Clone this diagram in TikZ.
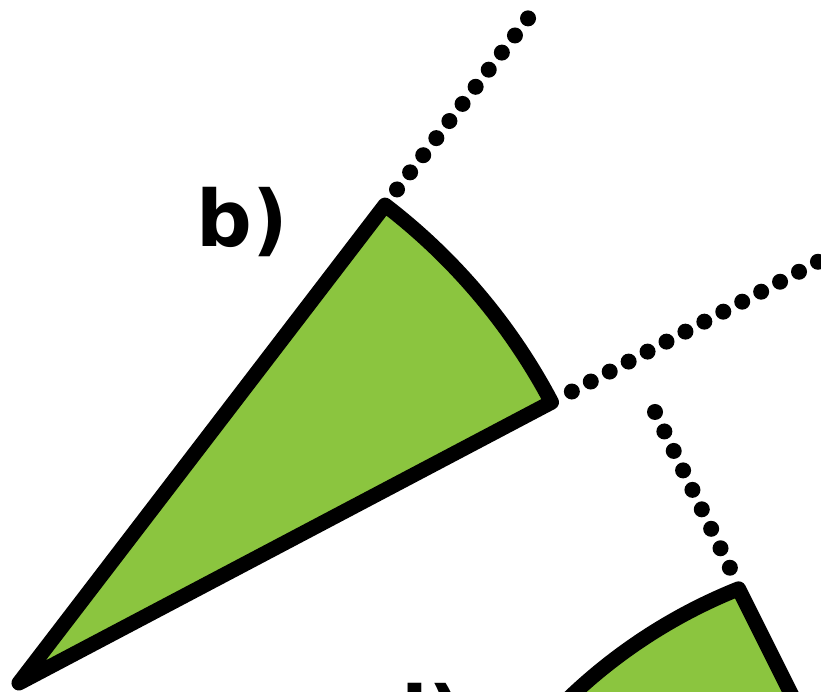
\documentclass[tikz,border=0pt]{standalone}
\usepackage{fontspec}
\setmainfont{DejaVu Sans}
\definecolor{wgreen}{HTML}{8BC53F}
\begin{document}
\begin{tikzpicture}[x=1pt,y=1pt,
  wedge/.style={fill=wgreen, draw=black, line width=15pt, line join=round},
  dotline/.style={draw=black, line width=16pt, line cap=round, dash pattern=on 0pt off #1},
  lbl/.style={font=\fontsize{78}{78}\selectfont\bfseries, inner sep=0pt, anchor=base west}]
\useasboundingbox (0,0) rectangle (821,692);
\clip (0,0) rectangle (821,692);
% wedge b
\coordinate (A) at (19,9);
\coordinate (b1) at ([shift={(52.55:602)}]A);
\draw[wedge] (A) -- (b1) arc[start angle=52.55, end angle=27.8, radius=602] -- cycle;
% dotted radial lines of wedge b
\coordinate (u1) at ([shift={(52.55:621.7)}]A);
\coordinate (u2) at ([shift={(52.55:837.8)}]A);
\draw[dotline=21.55pt] (u1) -- (u2);
\coordinate (v1) at ([shift={(27.8:625)}]A);
\coordinate (v2) at ([shift={(27.8:1000)}]A);
\draw[dotline=21.4pt] (v1) -- (v2);
% wedge d
\coordinate (O2) at (935,-388);
\coordinate (d1) at ([shift={(111.8:529)}]O2);
\coordinate (d3) at (814.2,-48);
\draw[wedge] (d1) arc[start angle=111.8, end angle=140, radius=529] -- (d3) -- cycle;
% dotted line of wedge d
\coordinate (w1) at (655,280);
\coordinate (w2) at (730.2,123.6);
\draw[dotline=21.6pt] (w1) -- (w2);
% labels
\node[lbl] (lb) at (196,445) {b)};
\node[lbl] (ld) at (372,-51) {d)};
\end{tikzpicture}
\end{document}
